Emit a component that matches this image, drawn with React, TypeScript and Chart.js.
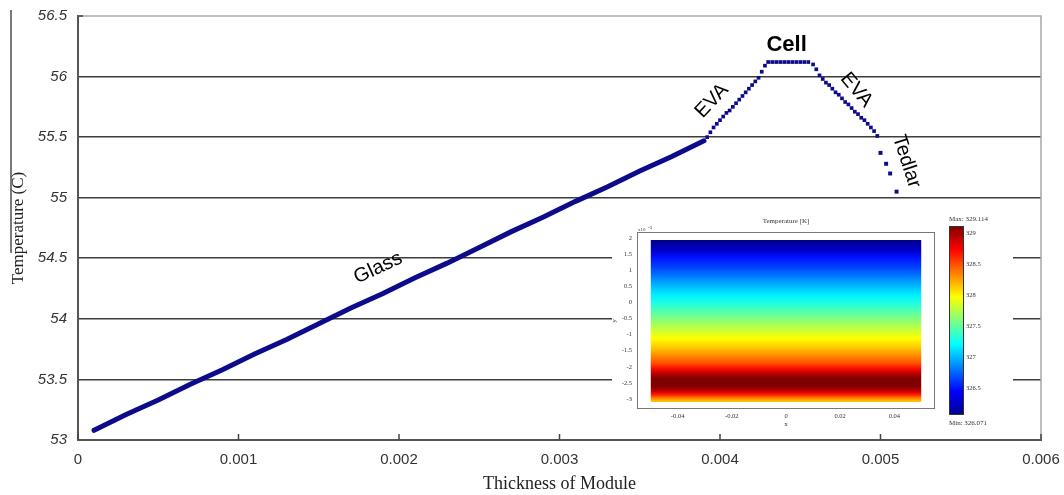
import React, { useEffect, useRef } from 'react';
import { Chart, registerables } from 'chart.js';
Chart.register(...registerables);

// ---------- main chart data ----------
const xTickValues = [0, 0.001, 0.002, 0.003, 0.004, 0.005, 0.006];
const xTickLabels = ['0', '0.001', '0.002', '0.003', '0.004', '0.005', '0.006'];
const yTickValues = [53, 53.5, 54, 54.5, 55, 55.5, 56, 56.5];
const yTickLabels = ['53', '53.5', '54', '54.5', '55', '55.5', '56', '56.5'];
const xTitle = 'Thickness of Module';
const yTitle = 'Temperature (C)';

const glassX = [0.0001, 0.0003, 0.0005, 0.0007, 0.0009, 0.0011, 0.0013, 0.0015, 0.0017, 0.0019, 0.0021, 0.0023, 0.0025, 0.0027, 0.0029, 0.0031, 0.0033, 0.0035, 0.0037, 0.0039];
const glassY = [53.08, 53.21, 53.33, 53.46, 53.58, 53.71, 53.83, 53.96, 54.09, 54.21, 54.34, 54.46, 54.59, 54.72, 54.84, 54.97, 55.09, 55.22, 55.34, 55.47];

const evaX = [0.00392, 0.00394, 0.00396, 0.00398, 0.004, 0.00402, 0.00404, 0.00406, 0.00408, 0.0041, 0.00412, 0.00414, 0.00416, 0.00418, 0.0042, 0.00422, 0.00424, 0.00426, 0.00428];
const evaY = [55.5, 55.54, 55.58, 55.61, 55.64, 55.67, 55.7, 55.72, 55.75, 55.78, 55.81, 55.84, 55.87, 55.9, 55.93, 55.96, 55.99, 56.04, 56.09];

const cellX = [0.0043, 0.004325, 0.00435, 0.004375, 0.0044, 0.004425, 0.00445, 0.004475, 0.0045, 0.004525, 0.00455];
const cellY = [56.12, 56.12, 56.12, 56.12, 56.12, 56.12, 56.12, 56.12, 56.12, 56.12, 56.12];

const eva2X = [0.00458, 0.0046, 0.00462, 0.00464, 0.00466, 0.00468, 0.0047, 0.00472, 0.00474, 0.00476, 0.00478, 0.0048, 0.00482, 0.00484, 0.00486, 0.00488, 0.0049, 0.00492, 0.00494, 0.00496, 0.00498];
const eva2Y = [56.1, 56.06, 56.01, 55.98, 55.95, 55.93, 55.9, 55.87, 55.85, 55.82, 55.79, 55.77, 55.74, 55.71, 55.69, 55.66, 55.64, 55.61, 55.58, 55.55, 55.51];

const tedlarX = [0.005, 0.005035, 0.00506, 0.0051];
const tedlarY = [55.37, 55.28, 55.2, 55.05];

const layerNames = ['Glass', 'EVA', 'Cell', 'EVA', 'Tedlar'];
const layerNameX = [0.00187, 0.00395, 0.004415, 0.00485, 0.005162];
const layerNameY = [54.42, 55.8, 56.26, 55.89, 55.3];
const layerNameAngle = [-25, -47, 0, 50, 72];

// ---------- inset data ----------
const insetTitle = 'Temperature [K]';
const insetXTicks = [-0.04, -0.02, 0, 0.02, 0.04];
const insetXTickLabels = ['-0.04', '-0.02', '0', '0.02', '0.04'];
const insetYTicks = [-3, -2.5, -2, -1.5, -1, -0.5, 0, 0.5, 1, 1.5, 2];
const insetYTickLabels = ['-3', '-2.5', '-2', '-1.5', '-1', '-0.5', '0', '0.5', '1', '1.5', '2'];
const domainX = [-0.05, 0.05];
const domainY = [-3.09, 1.94];
const fieldStopY = [1.94, 1.62, 1.41, 1.1, 0.79, 0.48, 0.23, -0.03, -0.34, -0.65, -0.96, -1.11, -1.37, -1.63, -1.89, -2.04, -2.2, -2.35, -2.61, -2.76, -2.87, -2.97, -3.09];
const fieldStopColor = ['#00008a', '#0000c8', '#0010ff', '#0040ff', '#0080ff', '#00c0ff', '#00f0ff', '#20ffe0', '#60ffa0', '#a0ff60', '#e0ff20', '#ffff00', '#ffd000', '#ff9000', '#ff5000', '#ff1000', '#c00000', '#800000', '#800000', '#c80000', '#ff2000', '#ff8000', '#ffd000'];

const tempMin = 326.071;
const tempMax = 329.114;
const colorbarTicks = [326.5, 327, 327.5, 328, 328.5, 329];
const colorbarTickLabels = ['326.5', '327', '327.5', '328', '328.5', '329'];
const jetStops = [0, 0.125, 0.375, 0.625, 0.875, 1];
const jetColors = ['#00008f', '#0000ff', '#00ffff', '#ffff00', '#ff0000', '#800000'];

const NAVY = '#0b0b8c';

function pts(xs: number[], ys: number[]) {
  return xs.map((x, i) => ({ x, y: ys[i] }));
}

function vGradient(chart: any, vals: number[], colors: string[]) {
  const { ctx, chartArea, scales } = chart;
  if (!chartArea) return 'rgba(0,0,0,0)';
  const ys = scales.y;
  const y0 = ys.getPixelForValue(vals[0]);
  const y1 = ys.getPixelForValue(vals[vals.length - 1]);
  const g = ctx.createLinearGradient(0, y0, 0, y1);
  vals.forEach((v: number, i: number) => {
    const t = (ys.getPixelForValue(v) - y0) / (y1 - y0);
    g.addColorStop(Math.min(1, Math.max(0, t)), colors[i]);
  });
  return g;
}

const mainDecor = {
  id: 'mainDecor',
  afterDraw(chart: any) {
    const { ctx, chartArea, scales } = chart;
    const { left, right, top, bottom } = chartArea;
    ctx.save();
    // top & right frame
    ctx.strokeStyle = '#a8a8a8';
    ctx.lineWidth = 1.5;
    ctx.beginPath();
    ctx.moveTo(left, top);
    ctx.lineTo(right, top);
    ctx.lineTo(right, bottom);
    ctx.stroke();
    // inward ticks
    ctx.strokeStyle = '#444';
    ctx.lineWidth = 1.5;
    ctx.beginPath();
    xTickValues.forEach((v) => {
      const px = scales.x.getPixelForValue(v);
      ctx.moveTo(px, bottom);
      ctx.lineTo(px, bottom - 6);
    });
    const yt = scales.y.getPixelForValue(56.5);
    ctx.moveTo(left, yt);
    ctx.lineTo(left + 5, yt);
    ctx.stroke();
    // left overline mark of the axis title
    ctx.strokeStyle = '#222';
    ctx.lineWidth = 1.2;
    ctx.beginPath();
    ctx.moveTo(11, 10);
    ctx.lineTo(11, 253);
    ctx.stroke();
    // layer labels
    ctx.fillStyle = '#000';
    ctx.textAlign = 'center';
    ctx.textBaseline = 'middle';
    layerNames.forEach((name, i) => {
      const px = scales.x.getPixelForValue(layerNameX[i]);
      const py = scales.y.getPixelForValue(layerNameY[i]);
      ctx.save();
      ctx.translate(px, py);
      ctx.rotate((layerNameAngle[i] * Math.PI) / 180);
      ctx.font = name === 'Cell' ? 'bold 22px "Liberation Sans"' : '20px "Liberation Sans"';
      ctx.fillText(name, 0, 0);
      ctx.restore();
    });
    ctx.restore();
  },
};

const insetDecor = {
  id: 'insetDecor',
  afterDraw(chart: any) {
    const { ctx, chartArea } = chart;
    const { left, right, top, bottom } = chartArea;
    ctx.save();
    ctx.strokeStyle = '#777';
    ctx.lineWidth = 1;
    ctx.strokeRect(left + 0.5, top + 0.5, right - left - 1, bottom - top - 1);
    ctx.fillStyle = '#333';
    ctx.font = '7px "Liberation Serif"';
    ctx.textAlign = 'center';
    ctx.textBaseline = 'middle';
    ctx.fillText(insetTitle, (left + right) / 2, 13);
    ctx.fillText('x', (left + right) / 2, 216);
    ctx.save();
    ctx.translate(2, 113);
    ctx.rotate(-Math.PI / 2);
    ctx.fillText('y', 0, 0);
    ctx.restore();
    ctx.textAlign = 'left';
    ctx.font = '5px "Liberation Serif"';
    ctx.fillText('x10', left + 1, top - 2);
    ctx.fillText('-3', left + 11, top - 4);
    ctx.restore();
  },
};

const barDecor = {
  id: 'barDecor',
  afterDraw(chart: any) {
    const { ctx, chartArea } = chart;
    const { left, right, top, bottom } = chartArea;
    ctx.save();
    ctx.strokeStyle = '#333';
    ctx.lineWidth = 1;
    ctx.strokeRect(left + 0.5, top + 0.5, right - left - 1, bottom - top - 1);
    ctx.fillStyle = '#333';
    ctx.font = '7px "Liberation Serif"';
    ctx.textAlign = 'left';
    ctx.textBaseline = 'middle';
    ctx.fillText('Max: ' + tempMax.toFixed(3), left, top - 7);
    ctx.fillText('Min: ' + tempMin.toFixed(3), left, bottom + 8);
    ctx.restore();
  },
};

export default function App() {
  const mainRef = useRef<HTMLCanvasElement>(null);
  const insetRef = useRef<HTMLCanvasElement>(null);
  const barRef = useRef<HTMLCanvasElement>(null);

  useEffect(() => {
    const charts: Chart[] = [];

    charts.push(
      new Chart(mainRef.current as HTMLCanvasElement, {
        type: 'line',
        data: {
          datasets: [
            {
              data: pts(glassX, glassY),
              showLine: true,
              borderColor: NAVY,
              borderWidth: 5,
              borderCapStyle: 'round',
              pointRadius: 0,
              tension: 0,
            },
            {
              data: pts(evaX, evaY),
              showLine: false,
              pointStyle: 'rect',
              pointRadius: 2.6,
              pointBorderWidth: 0,
              pointBackgroundColor: NAVY,
            },
            {
              data: pts(cellX, cellY),
              showLine: false,
              pointStyle: 'rect',
              pointRadius: 2.6,
              pointBorderWidth: 0,
              pointBackgroundColor: NAVY,
            },
            {
              data: pts(eva2X, eva2Y),
              showLine: false,
              pointStyle: 'rect',
              pointRadius: 2.6,
              pointBorderWidth: 0,
              pointBackgroundColor: NAVY,
            },
            {
              data: pts(tedlarX, tedlarY),
              showLine: false,
              pointStyle: 'rect',
              pointRadius: 2.8,
              pointBorderWidth: 0,
              pointBackgroundColor: NAVY,
            },
          ],
        } as any,
        options: {
          animation: false,
          responsive: false,
          devicePixelRatio: 1,
          layout: { padding: { left: 0, top: 16, right: 23, bottom: 0 } },
          plugins: { legend: { display: false }, tooltip: { enabled: false } },
          scales: {
            x: {
              type: 'linear',
              min: 0,
              max: 0.006,
              afterBuildTicks: (s: any) => {
                s.ticks = xTickValues.map((v) => ({ value: v }));
              },
              ticks: {
                callback: (v: any) => xTickLabels[xTickValues.indexOf(v)] ?? '',
                font: { family: 'Liberation Sans', size: 15 },
                color: '#333',
                padding: 11,
                maxRotation: 0,
                autoSkip: false,
              },
              grid: { display: false, drawTicks: false },
              border: { display: true, color: '#555', width: 2 },
              title: {
                display: true,
                text: xTitle,
                font: { family: 'Liberation Serif', size: 18 },
                color: '#222',
                padding: { top: 0, bottom: 0 },
              },
              afterFit: (s: any) => {
                s.height = 55;
                s.paddingLeft = 0;
                s.paddingRight = 0;
              },
            },
            y: {
              type: 'linear',
              min: 53,
              max: 56.5,
              afterBuildTicks: (s: any) => {
                s.ticks = yTickValues.map((v) => ({ value: v }));
              },
              ticks: {
                callback: (v: any) => yTickLabels[yTickValues.indexOf(v)] ?? '',
                font: { family: 'Liberation Sans', size: 15, style: 'italic' },
                color: '#333',
                padding: 11,
              },
              grid: {
                drawTicks: false,
                lineWidth: 1.6,
                color: (c: any) =>
                  c.tick && (c.tick.value === 53 || c.tick.value === 56.5) ? 'rgba(0,0,0,0)' : '#3d3d3d',
              },
              border: { display: true, color: '#555', width: 2 },
              title: {
                display: true,
                text: yTitle,
                font: { family: 'Liberation Serif', size: 17 },
                color: '#222',
                padding: { top: 8, bottom: 0 },
              },
              afterFit: (s: any) => {
                s.width = 78;
                s.paddingTop = 0;
                s.paddingBottom = 0;
              },
            },
          },
        } as any,
        plugins: [mainDecor],
      })
    );

    charts.push(
      new Chart(insetRef.current as HTMLCanvasElement, {
        type: 'line',
        data: {
          datasets: [
            {
              data: [
                { x: domainX[0], y: domainY[1] },
                { x: domainX[1], y: domainY[1] },
              ],
              borderColor: 'rgba(0,0,0,0)',
              borderWidth: 0,
              pointRadius: 0,
              fill: { value: domainY[0] },
              backgroundColor: (c: any) => vGradient(c.chart, fieldStopY, fieldStopColor),
            },
          ],
        } as any,
        options: {
          animation: false,
          responsive: false,
          devicePixelRatio: 1,
          layout: { padding: { left: 0, top: 24, right: 78, bottom: 0 } },
          plugins: { legend: { display: false }, tooltip: { enabled: false } },
          scales: {
            x: {
              type: 'linear',
              min: -0.055,
              max: 0.055,
              afterBuildTicks: (s: any) => {
                s.ticks = insetXTicks.map((v) => ({ value: v }));
              },
              ticks: {
                callback: (v: any) => insetXTickLabels[insetXTicks.indexOf(v)] ?? '',
                font: { family: 'Liberation Serif', size: 6.5 },
                color: '#333',
                padding: 3,
                maxRotation: 0,
                autoSkip: false,
              },
              grid: { display: false, drawTicks: false },
              border: { display: false },
              afterFit: (s: any) => {
                s.height = 21;
                s.paddingLeft = 0;
                s.paddingRight = 0;
              },
            },
            y: {
              type: 'linear',
              min: -3.31,
              max: 2.19,
              afterBuildTicks: (s: any) => {
                s.ticks = insetYTicks.map((v) => ({ value: v }));
              },
              ticks: {
                callback: (v: any) => insetYTickLabels[insetYTicks.indexOf(v)] ?? '',
                font: { family: 'Liberation Serif', size: 6.5 },
                color: '#333',
                padding: 5,
                autoSkip: false,
              },
              grid: { display: false, drawTicks: false },
              border: { display: false },
              afterFit: (s: any) => {
                s.width = 25;
                s.paddingTop = 0;
                s.paddingBottom = 0;
              },
            },
          },
        } as any,
        plugins: [insetDecor],
      })
    );

    const barStopVals = jetStops.map((s) => tempMin + s * (tempMax - tempMin));
    charts.push(
      new Chart(barRef.current as HTMLCanvasElement, {
        type: 'line',
        data: {
          datasets: [
            {
              data: [
                { x: 0, y: tempMax },
                { x: 1, y: tempMax },
              ],
              borderColor: 'rgba(0,0,0,0)',
              borderWidth: 0,
              pointRadius: 0,
              fill: { value: tempMin },
              backgroundColor: (c: any) => vGradient(c.chart, barStopVals, jetColors),
            },
          ],
        } as any,
        options: {
          animation: false,
          responsive: false,
          devicePixelRatio: 1,
          layout: { padding: { left: 9, top: 14, right: 0, bottom: 13 } },
          plugins: { legend: { display: false }, tooltip: { enabled: false } },
          scales: {
            x: { type: 'linear', min: 0, max: 1, display: false },
            y: {
              type: 'linear',
              position: 'right',
              min: tempMin,
              max: tempMax,
              afterBuildTicks: (s: any) => {
                s.ticks = colorbarTicks.map((v) => ({ value: v }));
              },
              ticks: {
                callback: (v: any) => colorbarTickLabels[colorbarTicks.indexOf(v)] ?? '',
                font: { family: 'Liberation Serif', size: 6.5 },
                color: '#333',
                padding: 2,
                autoSkip: false,
              },
              grid: { display: false, drawTicks: false },
              border: { display: false },
              afterFit: (s: any) => {
                s.width = 49;
                s.paddingTop = 0;
                s.paddingBottom = 0;
              },
            },
          },
        } as any,
        plugins: [barDecor],
      })
    );

    return () => charts.forEach((c) => c.destroy());
  }, []);

  return (
    <div style={{ position: 'fixed', left: 0, top: 0, width: 1064, height: 495, background: '#fff', overflow: 'hidden' }}>
      <canvas ref={mainRef} width={1064} height={495} style={{ position: 'absolute', left: 0, top: 0, display: 'block' }} />
      <div style={{ position: 'absolute', left: 612, top: 208, width: 401, height: 222, background: '#fff' }}>
        <canvas ref={insetRef} width={401} height={222} style={{ display: 'block' }} />
      </div>
      <canvas ref={barRef} width={73} height={216} style={{ position: 'absolute', left: 940, top: 212, display: 'block' }} />
    </div>
  );
}
